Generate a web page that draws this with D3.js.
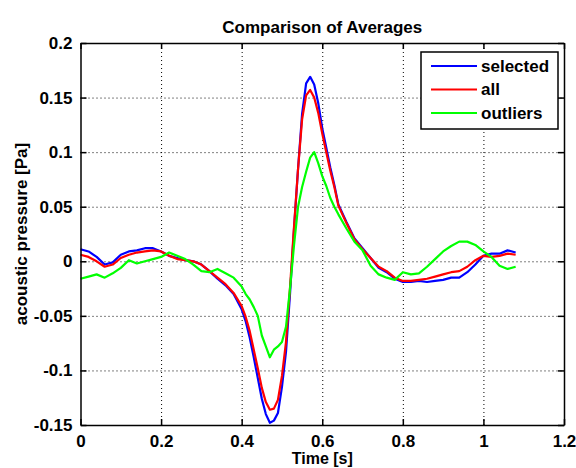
<!DOCTYPE html>
<html>
<head>
<meta charset="utf-8">
<script src="https://cdn.jsdelivr.net/npm/d3@7"></script>
<style>
  body { margin: 0; background: #fff; }
  text { font-family: Arial, "Liberation Sans", sans-serif; font-weight: bold; }
</style>
</head>
<body>
<div id="vis"></div>
<script>
// values
const time = [
  0, 0.02, 0.04, 0.06, 0.08, 0.10, 0.12, 0.14, 0.16, 0.18, 0.20, 0.22, 0.24, 0.26, 0.28, 0.30,
  0.32, 0.34, 0.36, 0.38, 0.40, 0.41, 0.42, 0.43, 0.44, 0.45, 0.46, 0.47, 0.48, 0.49, 0.50,
  0.51, 0.52, 0.53, 0.54, 0.55, 0.56, 0.57, 0.58, 0.59, 0.60, 0.61, 0.62, 0.63, 0.64, 0.66,
  0.68, 0.70, 0.72, 0.74, 0.76, 0.78, 0.80, 0.82, 0.84, 0.86, 0.88, 0.90, 0.92, 0.94, 0.96,
  0.98, 1.00, 1.02, 1.04, 1.06, 1.08
];
const selected = [
  0.011, 0.009, 0.004, -0.003, -0.001, 0.006, 0.009, 0.010, 0.012, 0.012, 0.009, 0.005, 0.003, 0.001, 0.000, -0.003,
  -0.009, -0.016, -0.022, -0.030, -0.044, -0.055, -0.070, -0.088, -0.107, -0.126, -0.140, -0.148, -0.146, -0.139, -0.115,
  -0.083, -0.030, 0.030, 0.085, 0.135, 0.163, 0.169, 0.162, 0.145, 0.122, 0.104, 0.086, 0.070, 0.052, 0.036,
  0.021, 0.012, 0.003, -0.006, -0.010, -0.016, -0.019, -0.019, -0.018, -0.019, -0.018, -0.017, -0.015, -0.015, -0.010,
  -0.003, 0.005, 0.007, 0.007, 0.010, 0.008
];
const all = [
  0.006, 0.004, 0.000, -0.005, -0.003, 0.003, 0.006, 0.008, 0.009, 0.010, 0.009, 0.005, 0.002, 0.001, 0.000, -0.003,
  -0.009, -0.015, -0.021, -0.029, -0.041, -0.051, -0.064, -0.081, -0.098, -0.116, -0.129, -0.136, -0.135, -0.127, -0.105,
  -0.074, -0.024, 0.032, 0.085, 0.130, 0.152, 0.157, 0.150, 0.136, 0.117, 0.100, 0.083, 0.068, 0.051, 0.035,
  0.020, 0.011, 0.003, -0.005, -0.009, -0.015, -0.018, -0.018, -0.017, -0.016, -0.014, -0.012, -0.010, -0.009, -0.005,
  0.001, 0.005, 0.004, 0.005, 0.007, 0.006
];
const outliers = [
  -0.016, -0.014, -0.012, -0.015, -0.011, -0.006, 0.001, -0.002, 0.000, 0.002, 0.004, 0.008, 0.005, 0.002, -0.003, -0.009,
  -0.010, -0.007, -0.011, -0.015, -0.023, -0.030, -0.035, -0.042, -0.050, -0.068, -0.078, -0.088, -0.081, -0.078, -0.074,
  -0.060, -0.025, 0.015, 0.050, 0.068, 0.082, 0.095, 0.100, 0.090, 0.078, 0.069, 0.058, 0.050, 0.043, 0.030,
  0.018, 0.010, -0.004, -0.012, -0.015, -0.017, -0.010, -0.012, -0.011, -0.005, 0.002, 0.009, 0.014, 0.018, 0.018,
  0.015, 0.009, 0.004, -0.004, -0.007, -0.005
];
const seriesNames = ["selected", "all", "outliers"];
const seriesColors = ["#0000ff", "#ff0000", "#00ff00"];
const xTicks = [0, 0.2, 0.4, 0.6, 0.8, 1, 1.2];
const xTickLabels = ["0", "0.2", "0.4", "0.6", "0.8", "1", "1.2"];
const yTicks = [-0.15, -0.1, -0.05, 0, 0.05, 0.1, 0.15, 0.2];
const yTickLabels = ["-0.15", "-0.1", "-0.05", "0", "0.05", "0.1", "0.15", "0.2"];

let margin = { top: 43, left: 80.5, right: 12, bottom: 43 },
  width = 576 - margin.left - margin.right,
  height = 468 - margin.top - margin.bottom;

let svg = d3.select("#vis").append("svg")
  .attr("width", 576)
  .attr("height", 468)
  .style("display", "block");

let g = svg.append("g").attr("transform", `translate(${margin.left},${margin.top})`);

let x = d3.scaleLinear().domain([0, 1.2]).range([0, width]);
let y = d3.scaleLinear().domain([-0.15, 0.2]).range([height, 0]);

// dotted grid
g.append("g")
  .attr("class", "grid")
  .attr("transform", `translate(0,${height})`)
  .call(d3.axisBottom(x).tickValues(xTicks.slice(1, -1)).tickSize(-height).tickFormat(""));
g.append("g")
  .attr("class", "grid")
  .call(d3.axisLeft(y).tickValues(yTicks.slice(1, -1)).tickSize(-width).tickFormat(""));
g.selectAll(".grid .domain").remove();
g.selectAll(".grid line")
  .attr("stroke", "#000")
  .attr("stroke-width", 1)
  .attr("stroke-dasharray", "1,3");

// lines
let line = d3.line()
  .x((d, i) => x(time[i]))
  .y(d => y(d));

[selected, all, outliers].forEach((vals, k) => {
  g.append("path")
    .datum(vals)
    .attr("fill", "none")
    .attr("stroke", seriesColors[k])
    .attr("stroke-width", 2.2)
    .attr("stroke-linejoin", "round")
    .attr("d", line);
});

// axes with inward ticks on all four sides
let fmtX = (d, i) => xTickLabels[i];
let fmtY = (d, i) => yTickLabels[i];

let xAxis = g.append("g")
  .attr("transform", `translate(0,${height})`)
  .call(d3.axisBottom(x).tickValues(xTicks).tickSizeInner(-6).tickSizeOuter(0).tickPadding(10).tickFormat(fmtX));
let xTop = g.append("g")
  .call(d3.axisTop(x).tickValues(xTicks).tickSizeInner(-6).tickSizeOuter(0).tickFormat(""));
let yAxis = g.append("g")
  .call(d3.axisLeft(y).tickValues(yTicks).tickSizeInner(-6).tickSizeOuter(0).tickPadding(8).tickFormat(fmtY));
let yRight = g.append("g")
  .attr("transform", `translate(${width},0)`)
  .call(d3.axisRight(y).tickValues(yTicks).tickSizeInner(-6).tickSizeOuter(0).tickFormat(""));

[xAxis, xTop, yAxis, yRight].forEach(a => {
  a.selectAll(".domain").attr("stroke", "#000").attr("stroke-width", 1.5);
  a.selectAll(".tick line").attr("stroke", "#000").attr("stroke-width", 1.5);
  a.selectAll("text")
    .attr("fill", "#000")
    .style("font-size", "17px")
    .style("font-weight", "bold")
    .style("font-family", "Arial, 'Liberation Sans', sans-serif");
});

// title and axis labels
svg.append("text")
  .attr("x", margin.left + width / 2)
  .attr("y", 33)
  .attr("text-anchor", "middle")
  .style("font-size", "17px")
  .text("Comparison of Averages");

svg.append("text")
  .attr("x", margin.left + width / 2)
  .attr("y", 464)
  .attr("text-anchor", "middle")
  .style("font-size", "16px")
  .text("Time [s]");

svg.append("text")
  .attr("transform", `translate(27,${margin.top + height / 2}) rotate(-90)`)
  .attr("text-anchor", "middle")
  .style("font-size", "17px")
  .text("acoustic pressure [Pa]");

// legend
let legend = svg.append("g").attr("transform", "translate(421,52)");
legend.append("rect")
  .attr("width", 137)
  .attr("height", 77)
  .attr("fill", "#fff")
  .attr("stroke", "#000")
  .attr("stroke-width", 1.5);

seriesNames.forEach((name, k) => {
  let row = legend.append("g").attr("transform", `translate(0,${14 + k * 23.5})`);
  row.append("line")
    .attr("x1", 10).attr("x2", 56)
    .attr("stroke", seriesColors[k])
    .attr("stroke-width", 2.2);
  row.append("text")
    .attr("x", 60)
    .attr("dy", "0.35em")
    .style("font-size", "17px")
    .text(name);
});
</script>
</body>
</html>
